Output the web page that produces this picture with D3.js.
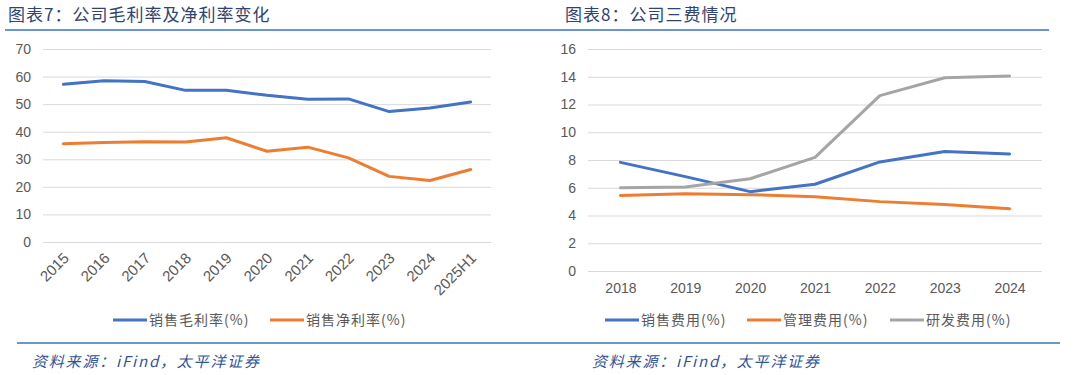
<!DOCTYPE html>
<html lang="zh">
<head>
  <meta charset="UTF-8">
  <title>公司毛利率及净利率变化 / 公司三费情况</title>
  <script src="https://d3js.org/d3.v7.min.js"></script>
  <style>
    body { margin: 0; background: #fff; }
    svg { display: block; }
  </style>
</head>
<body>
  <div id="chart"></div>
  <script>
    // chart 7 data
    const years7 = ["2015", "2016", "2017", "2018", "2019", "2020", "2021", "2022", "2023", "2024", "2025H1"];
    const grossMargin = [57.2, 58.5, 58.2, 55.0, 55.0, 53.2, 51.8, 51.9, 47.3, 48.6, 50.8];
    const netMargin = [35.6, 36.1, 36.4, 36.3, 37.8, 32.9, 34.4, 30.5, 23.8, 22.3, 26.3];
    const ticks7 = [0, 10, 20, 30, 40, 50, 60, 70];

    // chart 8 data
    const years8 = ["2018", "2019", "2020", "2021", "2022", "2023", "2024"];
    const salesExp = [7.83, 6.8, 5.72, 6.25, 7.86, 8.62, 8.43];
    const adminExp = [5.45, 5.57, 5.5, 5.36, 5.0, 4.8, 4.49];
    const rdExp = [6.0, 6.05, 6.65, 8.19, 12.64, 13.93, 14.05];
    const ticks8 = [0, 2, 4, 6, 8, 10, 12, 14, 16];

    const blue = "#4472C4", orange = "#ED7D31", gray = "#A5A5A5";
    const cjk = "'Noto Sans CJK SC', sans-serif";
    const num = "'Liberation Sans', Arial, sans-serif";

    const svg = d3.select("#chart").append("svg")
      .attr("width", 1080)
      .attr("height", 375);

    // header / footer rules
    svg.append("line").attr("x1", 5).attr("x2", 1049).attr("y1", 30).attr("y2", 30)
      .attr("stroke", "#6A97D4").attr("stroke-width", 2);
    svg.append("line").attr("x1", 17).attr("x2", 1060).attr("y1", 343).attr("y2", 343)
      .attr("stroke", "#6A97D4").attr("stroke-width", 2);

    function titleText(x, t) {
      svg.append("text").attr("x", x).attr("y", 21)
        .style("font-family", cjk).style("font-size", "17px")
        .style("letter-spacing", "1px")
        .attr("fill", "#2F4470").text(t);
    }
    titleText(8, "图表7：公司毛利率及净利率变化");
    titleText(565, "图表8：公司三费情况");

    function sourceText(x) {
      svg.append("text").attr("x", x).attr("y", 367)
        .style("font-family", cjk).style("font-size", "15px")
        .style("letter-spacing", "1.8px")
        .style("font-style", "italic")
        .attr("fill", "#2F5597").text("资料来源：iFind，太平洋证券");
    }
    sourceText(32);
    sourceText(592);

    function drawChart(opt) {
      const x = d3.scalePoint().domain(opt.cats).range([opt.x0, opt.x1]).padding(0.5);
      const y = d3.scaleLinear().domain([0, opt.max]).range([opt.yb, opt.yt]);

      const g = svg.append("g");

      const yAxis = d3.axisLeft(y).tickValues(opt.ticks).tickSize(-(opt.x1 - opt.x0)).tickPadding(opt.tickPad);
      const ya = g.append("g").attr("transform", `translate(${opt.x0},0)`).call(yAxis);
      ya.select(".domain").remove();
      ya.selectAll(".tick line").attr("stroke", "#D9D9D9").attr("stroke-width", 1);
      ya.selectAll(".tick text").attr("fill", "#595959")
        .style("font-family", num).style("font-size", "14px");

      const xAxis = d3.axisBottom(x).tickSize(0);
      const xa = g.append("g").attr("transform", `translate(0,${opt.yb})`).call(xAxis);
      xa.select(".domain").remove();
      xa.selectAll(".tick text").attr("fill", "#595959")
        .style("font-family", num).style("font-size", opt.rotate ? "15px" : "14px");
      if (opt.rotate) {
        xa.selectAll(".tick text")
          .attr("text-anchor", "end")
          .attr("dy", null).attr("y", 0)
          .attr("transform", "translate(6,17) rotate(-45)");
      } else {
        xa.selectAll(".tick text").attr("y", 12);
      }

      const line = d3.line()
        .x((d, i) => x(opt.cats[i]))
        .y(d => y(d));

      opt.series.forEach(s => {
        g.append("path").datum(s.values)
          .attr("fill", "none")
          .attr("stroke", s.color)
          .attr("stroke-width", 3)
          .attr("stroke-linejoin", "round")
          .attr("stroke-linecap", "round")
          .attr("d", line);
      });

      // legend
      opt.series.forEach((s, i) => {
        const lx = opt.legendX[i];
        g.append("line").attr("x1", lx).attr("x2", lx + 34)
          .attr("y1", opt.legendY).attr("y2", opt.legendY)
          .attr("stroke", s.color).attr("stroke-width", 3);
        g.append("text").attr("x", lx + 36).attr("y", opt.legendY + 5)
          .style("font-family", cjk).style("font-size", "14px")
          .style("letter-spacing", "1px")
          .attr("fill", "#595959").text(s.name);
      });
    }

    drawChart({
      cats: years7, max: 70, ticks: ticks7,
      x0: 43, x1: 491, yt: 49, yb: 242, tickPad: 12, rotate: true,
      legendX: [113, 270], legendY: 320,
      series: [
        { name: "销售毛利率(%)", color: blue, values: grossMargin },
        { name: "销售净利率(%)", color: orange, values: netMargin }
      ]
    });

    drawChart({
      cats: years8, max: 16, ticks: ticks8,
      x0: 588, x1: 1042, yt: 49, yb: 271, tickPad: 12, rotate: false,
      legendX: [605, 747, 890], legendY: 320,
      series: [
        { name: "销售费用(%)", color: blue, values: salesExp },
        { name: "管理费用(%)", color: orange, values: adminExp },
        { name: "研发费用(%)", color: gray, values: rdExp }
      ]
    });
  </script>
</body>
</html>
